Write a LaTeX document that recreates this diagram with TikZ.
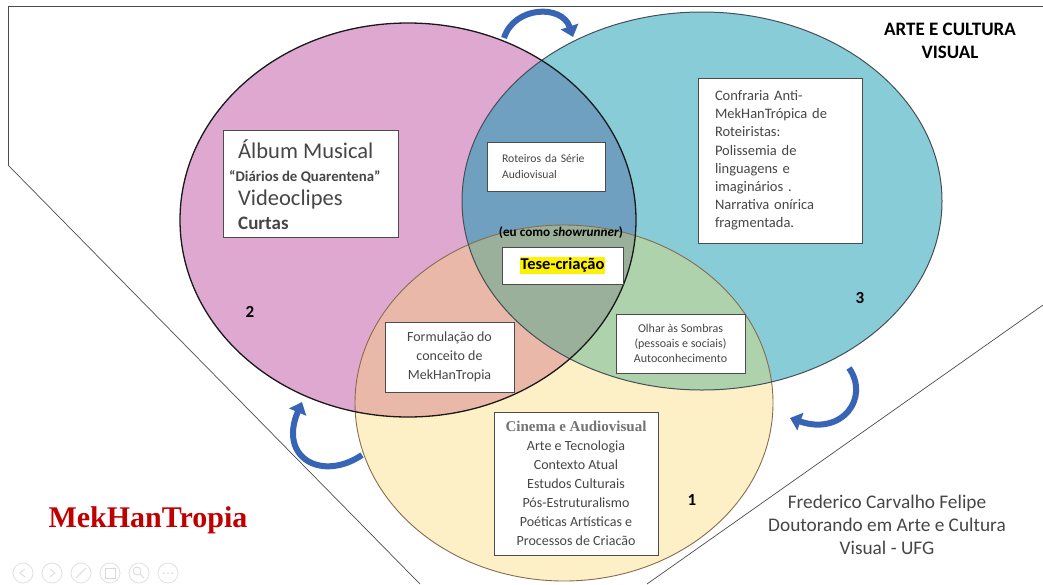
\documentclass[tikz,border=0pt]{standalone}
\usepackage{fontspec}
\setmainfont{Carlito}
\newfontfamily\timesfont{Liberation Serif}
\usetikzlibrary{arrows.meta}
\definecolor{pinkA}{RGB}{223,168,208}
\definecolor{cyanA}{RGB}{136,204,216}
\definecolor{yellowA}{RGB}{254,240,198}
\definecolor{pinkcyan}{RGB}{111,160,192}
\definecolor{pinkyellow}{RGB}{233,184,168}
\definecolor{cyanyellow}{RGB}{174,210,172}
\definecolor{allthree}{RGB}{155,176,154}
\definecolor{arrowblue}{RGB}{56,100,182}
\definecolor{boxtext}{RGB}{70,70,70}
\definecolor{mekred}{RGB}{192,0,0}
\newcommand{\fs}[2]{\fontsize{#1}{#2}\selectfont}

\begin{document}
\begin{tikzpicture}[x=1pt, y=-1pt,
    textbox/.style = {draw=black!70, fill=white, line width=0.9pt, text=boxtext, inner sep=0pt},
    boxline/.style = {text=boxtext, inner sep=0pt, anchor=base west},
    numlabel/.style = {font=\bfseries\fs{17}{17}, inner sep=0pt},
    cyclearrow/.style = {arrowblue, line width=6pt, -{Triangle[length=11pt,width=18pt]}}]
  \useasboundingbox (0,0) rectangle (1043,584);
  \def\pinkpath{(408,220) ellipse [x radius=228pt, y radius=197pt]}
  \def\cyanpath{(702,201) ellipse [x radius=240pt, y radius=189pt]}
  \def\yellowpath{(564,403) ellipse [x radius=209pt, y radius=178pt]}
  % frame of the slide
  \draw[black!70, line width=0.7pt] (8,165) -- (8,6) -- (1043,6);
  \draw[black!70, line width=0.7pt] (8,165) -- (420,584);
  \draw[black!70, line width=0.7pt] (647,584) -- (1043,305);
  %
  \fill[pinkA] \pinkpath;
  \fill[cyanA] \cyanpath;
  \fill[yellowA] \yellowpath;
  \begin{scope}
    \clip \pinkpath;
    \fill[pinkcyan] \cyanpath;
    \fill[pinkyellow] \yellowpath;
  \end{scope}
  \begin{scope}
    \clip \cyanpath;
    \fill[cyanyellow] \yellowpath;
    \clip \pinkpath;
    \fill[allthree] \yellowpath;
  \end{scope}
  \draw[line width=0.9pt, black!45!brown!80] \yellowpath;
  \draw[line width=1pt, black!75!cyan] \cyanpath;
  \draw[line width=1.3pt, black!90] \pinkpath;
  %
  \node[numlabel] (n2) at (250,312) {2};
  \node[numlabel] (n3) at (860,298) {3};
  \node[numlabel] (n1) at (692,500) {1};
  %
  \node[textbox, minimum width=175pt, minimum height=107pt] (album) at (310.5,183.5) {};
  \node[boxline, font=\fs{22.5}{22}] (album1) at (238,158) {Álbum Musical};
  \node[boxline, font=\bfseries\fs{14.8}{14}] (album2) at (229,181) {“Diários de Quarentena”};
  \node[boxline, font=\fs{22.5}{22}] (album3) at (238,205) {Videoclipes};
  \node[boxline, font=\bfseries\fs{19}{19}] (album4) at (238,229) {Curtas};
  %
  \node[textbox, minimum width=118pt, minimum height=49pt, text width=88pt, align=left,
    font=\fs{11.7}{16}] (roteiros) at (546,166.5) {Roteiros da Série\\Audiovisual};
  \node[inner sep=0pt, font=\bfseries\fs{13.2}{13}] (showrunner) at (561,233) {(eu como \textit{showrunner})};
  \node[textbox, minimum width=121pt, minimum height=37pt, font=\bfseries\fs{16.5}{16}, text=black]
    (tese) at (562.5,265.5) {\setlength{\fboxsep}{1pt}\colorbox{yellow}{Tese-criação}};
  %
  \node[textbox, minimum width=164pt, minimum height=165pt, text width=130pt, align=left,
    font=\fs{14.5}{18.2}] (confraria) at (780,160.5)
    {Confraria Anti-\\MekHanTrópica de\\Roteiristas:\\Polissemia de\\linguagens e\\imaginários .\\Narrativa onírica\\fragmentada.};
  %
  \node[textbox, minimum width=129pt, minimum height=70pt, align=center, font=\fs{14}{19}]
    (formulacao) at (449.5,357) {Formulação do\\conceito de\\MekHanTropia};
  \node[textbox, minimum width=129pt, minimum height=59pt, align=center, font=\fs{12}{15}]
    (olhar) at (680.5,343.5) {Olhar às Sombras\\(pessoais e sociais)\\Autoconhecimento};
  \node[textbox, minimum width=164pt, minimum height=143pt, align=center, font=\fs{14}{19}]
    (cinema) at (576,483.5)
    {{\timesfont\bfseries\fs{15}{19}\color{black!55}Cinema e Audiovisual}\\Arte e Tecnologia\\Contexto Atual\\Estudos Culturais\\Pós-Estruturalismo\\Poéticas Artísticas e\\Processos de Criacão};
  %
  \node[align=center, font=\bfseries\fs{19}{23}] (arte) at (950,40.5) {ARTE E CULTURA\\VISUAL};
  \node[font=\timesfont\bfseries\fs{30}{30}, text=mekred] (mek) at (148,520) {MekHanTropia};
  \node[align=center, font=\fs{19.3}{23}, text=boxtext] (autor) at (887,524.5)
    {Frederico Carvalho Felipe\\Doutorando em Arte e Cultura\\Visual - UFG};
  % cycle arrows
  \draw[cyclearrow] (504,38) .. controls (514,6) and (562,4) .. (573,37);
  \draw[cyclearrow] (362,455) .. controls (322,482) and (278,458) .. (302,402);
  \draw[cyclearrow] (849,368) .. controls (870,398) and (842,436) .. (790,418);
  % slide controls
  \foreach \cx in {23,52,81,110,139,168} {
    \draw[black!12, line width=0.8pt] (\cx,573) circle [radius=10pt];
  }
  \draw[black!15, line width=0.8pt] (25,569) -- (20,573) -- (25,577);
  \draw[black!15, line width=0.8pt] (50,569) -- (55,573) -- (50,577);
  \draw[black!15, line width=0.8pt] (76,578) -- (86,568);
  \draw[black!15, line width=0.8pt] (105,568) rectangle (115,578);
  \draw[black!15, line width=0.8pt] (137,571) circle [radius=4pt] (140,574) -- (144,578);
  \foreach \dx in {-4,0,4} {
    \fill[black!15] (168+\dx,573) circle [radius=1pt];
  }
\end{tikzpicture}
\end{document}
